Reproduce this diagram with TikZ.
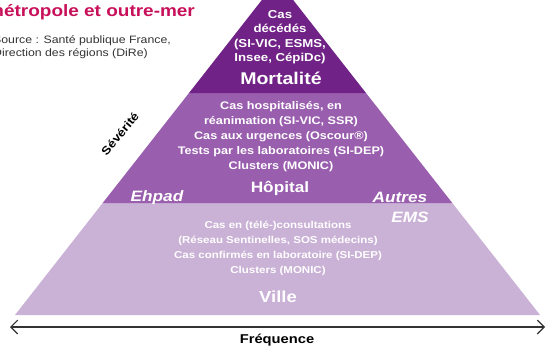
\documentclass[tikz,border=0pt]{standalone}
\usepackage{fontspec}
\setmainfont{Liberation Sans}[FakeStretch=1.15]
\usetikzlibrary{arrows.meta}
\definecolor{mortcol}{RGB}{112,34,134}
\definecolor{hopcol}{RGB}{154,94,174}
\definecolor{villecol}{RGB}{202,177,214}
\definecolor{titlecol}{RGB}{200,16,90}
\begin{document}
\begin{tikzpicture}[x=1pt,y=-1pt,
 info/.style={text=white,font=\bfseries\fontsize{11}{15}\selectfont,align=center,inner sep=0pt},
 level/.style={text=white,font=\bfseries\fontsize{16}{19}\selectfont,inner sep=0pt},
 side/.style={text=white,font=\bfseries\itshape\fontsize{15}{17}\selectfont,inner sep=0pt},
 note/.style={font=\fontsize{10.7}{13}\selectfont,text=black!80,align=left,inner sep=0pt},
 axis/.style={{Straight Barb[length=2.4mm]}-{Straight Barb[length=2.4mm]},black!80,line width=1.2pt}]
\useasboundingbox (0,0) rectangle (552,348);
\clip (0,0) rectangle (552,348);
\fill[villecol] (102.7,203) -- (452.3,203) -- (540,315) -- (15,315) -- cycle;
\fill[hopcol] (189,93) -- (366,93) -- (452.3,203) -- (102.7,203) -- cycle;
\fill[mortcol] (277.5,-20) -- (366,93) -- (189,93) -- cycle;
\node[anchor=west,inner sep=0pt,text=titlecol,font=\bfseries\fontsize{16.5}{18}\selectfont] (titre) at (-13,12) {métropole et outre-mer};
\node[note,anchor=north west] (source) at (-7,35) {Source : Santé publique France,\\Direction des régions (DiRe)};
\node[info,font=\bfseries\fontsize{11.5}{14.4}\selectfont] (deces) at (280,37) {Cas\\décédés\\(SI-VIC, ESMS,\\Insee, CépiDc)};
\node[level,font=\bfseries\fontsize{17}{19}\selectfont] (mort) at (281,78) {Mortalité};
\node[info] (hosp) at (281,137) {Cas hospitalisés, en\\réanimation (SI-VIC, SSR)\\Cas aux urgences (Oscour®)\\Tests par les laboratoires (SI-DEP)\\Clusters (MONIC)};
\node[level,font=\bfseries\fontsize{15}{17}\selectfont] (hop) at (280,188) {Hôpital};
\node[info,font=\bfseries\fontsize{10}{15}\selectfont] (cons) at (278,248.5) {Cas en (télé-)consultations\\(Réseau Sentinelles, SOS médecins)\\Cas confirmés en laboratoire (SI-DEP)\\Clusters (MONIC)};
\node[level] (ville) at (278,297) {Ville};
\node[side] (ehpad) at (157,198) {Ehpad};
\node[side] (autres) at (400,197) {Autres};
\node[side] (ems) at (410,217) {EMS};
\node[rotate=50,inner sep=0pt,font=\bfseries\fontsize{11.5}{13}\selectfont] (severite) at (120,134) {Sévérité};
\coordinate (gauche) at (10,327);
\coordinate (droite) at (545,327);
\draw[axis] (gauche) -- (droite);
\node[font=\bfseries\fontsize{12.8}{14}\selectfont,inner sep=0pt] (frequence) at (277,340) {Fréquence};
\end{tikzpicture}
\end{document}
